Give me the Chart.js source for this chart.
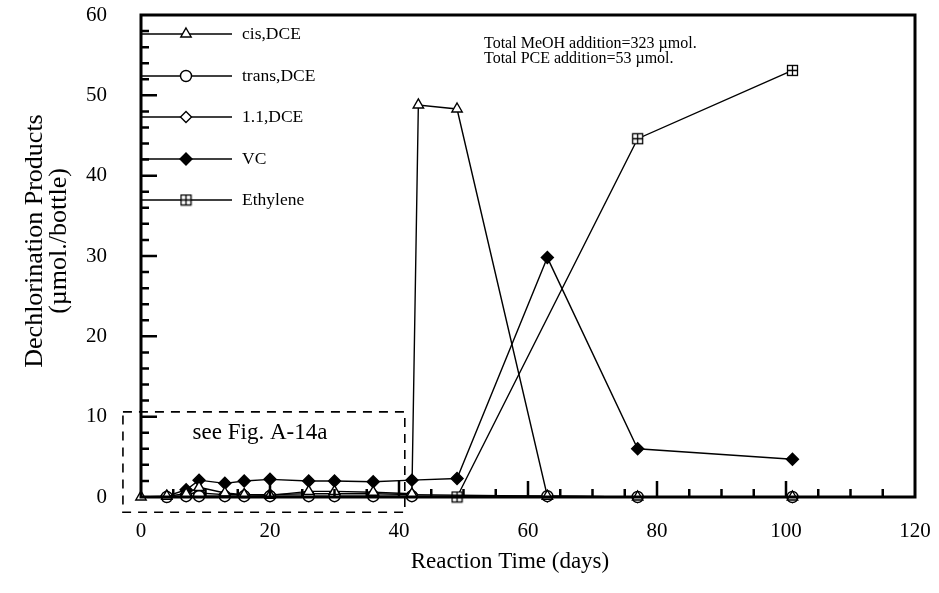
<!DOCTYPE html>
<html><head><meta charset="utf-8">
<script src="https://cdn.jsdelivr.net/npm/chart.js@4/dist/chart.umd.min.js"></script>
<style>html,body{margin:0;padding:0;background:#fff}canvas{display:block}</style>
</head><body>
<canvas id="c" width="939" height="593"></canvas>
<script>
// ---- data ----
const seriesNames = ['cis,DCE', 'trans,DCE', '1.1,DCE', 'VC', 'Ethylene'];

const cisDays   = [0, 4, 7, 9, 13, 16, 20, 26, 30, 36, 42, 43, 49, 63, 77, 101];
const cisValues = [0, 0.1, 0.4, 1.2, 0.5, 0.3, 0.2, 0.7, 0.7, 0.6, 0.4, 48.8, 48.3, 0.1, 0, 0];

const transDays   = [4, 7, 9, 13, 16, 20, 26, 30, 36, 42, 63, 77, 101];
const transValues = [0, 0.1, 0.1, 0.1, 0.1, 0.1, 0.1, 0.1, 0.1, 0.1, 0.1, 0, 0];

const dce11Days   = [7, 9, 13, 16, 20, 26, 30, 36, 42, 63, 77, 101];
const dce11Values = [0.4, 0.5, 0.3, 0.3, 0.3, 0.4, 0.4, 0.4, 0.3, 0.1, 0, 0];

const vcDays   = [4, 7, 9, 13, 16, 20, 26, 30, 36, 42, 49, 63, 77, 101];
const vcValues = [0.1, 0.9, 2.1, 1.7, 2.0, 2.2, 2.0, 2.0, 1.9, 2.1, 2.3, 29.8, 6.0, 4.7];

const ethDays   = [49, 77, 101];
const ethValues = [0, 44.6, 53.1];

const xTickValues = [0, 20, 40, 60, 80, 100, 120];
const yTickValues = [0, 10, 20, 30, 40, 50, 60];

const xTitle = 'Reaction Time (days)';
const yTitle = ['Dechlorination Products', '(\u00b5mol./bottle)'];
const noteLines = ['Total MeOH addition=323 \u00b5mol.', 'Total PCE addition=53 \u00b5mol.'];
const insetNote = 'see Fig. A-14a';
const insetBox = { x0: -2.8, x1: 40.9, y0: -1.9, y1: 10.6 }; // data coords of dashed box

// ---- helpers ----
function pts(days, vals) { return days.map((d, i) => ({ x: d, y: vals[i] })); }
function makeBoxCross(size) {
  const c = document.createElement('canvas');
  c.width = c.height = size;
  const g = c.getContext('2d');
  g.fillStyle = '#fff'; g.fillRect(1, 1, size - 2, size - 2);
  g.strokeStyle = '#000'; g.lineWidth = 1.3;
  g.strokeRect(1.5, 1.5, size - 3, size - 3);
  g.beginPath();
  g.moveTo(size / 2, 1.5); g.lineTo(size / 2, size - 1.5);
  g.moveTo(1.5, size / 2); g.lineTo(size - 1.5, size / 2);
  g.stroke();
  return c;
}
const boxCross = makeBoxCross(13);
const FONT = "'Liberation Serif', 'Times New Roman', serif";
const TARGET = { left: 141, top: 15, right: 915, bottom: 497 };

const styles = [
  { pointStyle: 'triangle', fill: '#fff', r: 6 },
  { pointStyle: 'circle', fill: '#fff', r: 5.5 },
  { pointStyle: 'rectRot', fill: '#fff', r: 5.5 },
  { pointStyle: 'rectRot', fill: '#000', r: 6 },
  { pointStyle: boxCross, fill: '#fff', r: 6 }
];
const seriesData = [
  pts(cisDays, cisValues), pts(transDays, transValues), pts(dce11Days, dce11Values),
  pts(vcDays, vcValues), pts(ethDays, ethValues)
];

const datasets = seriesNames.map((name, i) => ({
  label: name,
  data: seriesData[i],
  showLine: true,
  tension: 0,
  borderColor: '#000',
  borderWidth: 1.4,
  pointStyle: styles[i].pointStyle,
  pointRadius: styles[i].r,
  pointBackgroundColor: styles[i].fill,
  pointBorderColor: '#000',
  pointBorderWidth: 1.4,
  clip: false
}));

const decor = {
  id: 'decor',
  beforeDatasetsDraw(chart) {
    const { ctx, scales: { x, y } } = chart;
    ctx.save();
    ctx.strokeStyle = '#000';
    ctx.lineWidth = 1.6;
    ctx.setLineDash([9, 7]);
    const bx0 = x.getPixelForValue(insetBox.x0), bx1 = x.getPixelForValue(insetBox.x1);
    const by0 = y.getPixelForValue(insetBox.y0), by1 = y.getPixelForValue(insetBox.y1);
    ctx.strokeRect(bx0, by1, bx1 - bx0, by0 - by1);
    ctx.setLineDash([]);
    ctx.fillStyle = '#000';
    ctx.font = '23px ' + FONT;
    ctx.textAlign = 'center';
    ctx.textBaseline = 'middle';
    ctx.fillText(insetNote, 260, y.getPixelForValue(8.0));
    ctx.restore();
  },
  afterDraw(chart) {
    const { ctx, chartArea: a, scales: { x, y } } = chart;
    ctx.save();
    ctx.strokeStyle = '#000';
    ctx.fillStyle = '#000';
    // frame
    ctx.lineWidth = 3;
    ctx.strokeRect(a.left, a.top, a.right - a.left, a.bottom - a.top);
    // inward ticks
    ctx.lineWidth = 2.5;
    ctx.beginPath();
    for (let v = 2; v < 60; v += 2) {
      const len = v % 10 === 0 ? 16 : 8;
      const py = y.getPixelForValue(v);
      ctx.moveTo(a.left, py); ctx.lineTo(a.left + len, py);
    }
    for (let d = 5; d < 120; d += 5) {
      const len = d % 20 === 0 ? 16 : 8;
      const px = x.getPixelForValue(d);
      ctx.moveTo(px, a.bottom); ctx.lineTo(px, a.bottom - len);
    }
    ctx.stroke();
    // legend
    const rowY = [34, 76, 117, 159, 200];
    ctx.font = '17.5px ' + FONT;
    ctx.textAlign = 'left';
    ctx.textBaseline = 'middle';
    datasets.forEach((ds, i) => {
      const yy = rowY[i];
      ctx.lineWidth = 1.4;
      ctx.beginPath(); ctx.moveTo(a.left, yy); ctx.lineTo(a.left + 91, yy); ctx.stroke();
      ctx.fillStyle = styles[i].fill;
      ctx.strokeStyle = '#000';
      Chart.helpers.drawPoint(ctx, { pointStyle: styles[i].pointStyle, radius: styles[i].r, borderWidth: 1.4, rotation: 0 }, a.left + 45, yy);
      ctx.fillStyle = '#000';
      ctx.fillText(ds.label, a.left + 101, yy);
    });
    // note
    ctx.font = '16px ' + FONT;
    ctx.fillText(noteLines[0], 484, 44);
    ctx.fillText(noteLines[1], 484, 59);
    // axis titles
    ctx.font = '23px ' + FONT;
    ctx.textAlign = 'center';
    ctx.fillText(xTitle, 510, 562);
    ctx.save();
    ctx.font = '26px ' + FONT;
    ctx.translate(35, 241);
    ctx.rotate(-Math.PI / 2);
    ctx.fillText(yTitle[0], 0, 0);
    ctx.fillText(yTitle[1], 0, 24);
    ctx.restore();
    ctx.restore();
  }
};

const hiddenTicks = len => ({ display: true, drawOnChartArea: false, drawTicks: true, tickLength: len, color: 'rgba(0,0,0,0)' });

new Chart(document.getElementById('c'), {
  type: 'line',
  data: { datasets },
  options: {
    responsive: false,
    animation: false,
    layout: { padding: { left: 0, top: TARGET.top, right: 939 - TARGET.right, bottom: 0 } },
    plugins: { legend: { display: false }, tooltip: { enabled: false } },
    scales: {
      x: {
        type: 'linear', min: 0, max: 120,
        afterFit: s => { s.height = 593 - TARGET.bottom; },
        afterBuildTicks: s => { s.ticks = xTickValues.map(v => ({ value: v })); },
        grid: hiddenTicks(22), border: { display: false },
        ticks: { color: '#000', font: { family: FONT, size: 21 }, padding: 0, maxRotation: 0 }
      },
      y: {
        type: 'linear', min: 0, max: 60,
        afterFit: s => { s.width = TARGET.left; },
        afterBuildTicks: s => { s.ticks = yTickValues.map(v => ({ value: v })); },
        grid: hiddenTicks(34), border: { display: false },
        ticks: { color: '#000', font: { family: FONT, size: 21 }, padding: 0 }
      }
    }
  },
  plugins: [decor]
});
</script>
</body></html>
